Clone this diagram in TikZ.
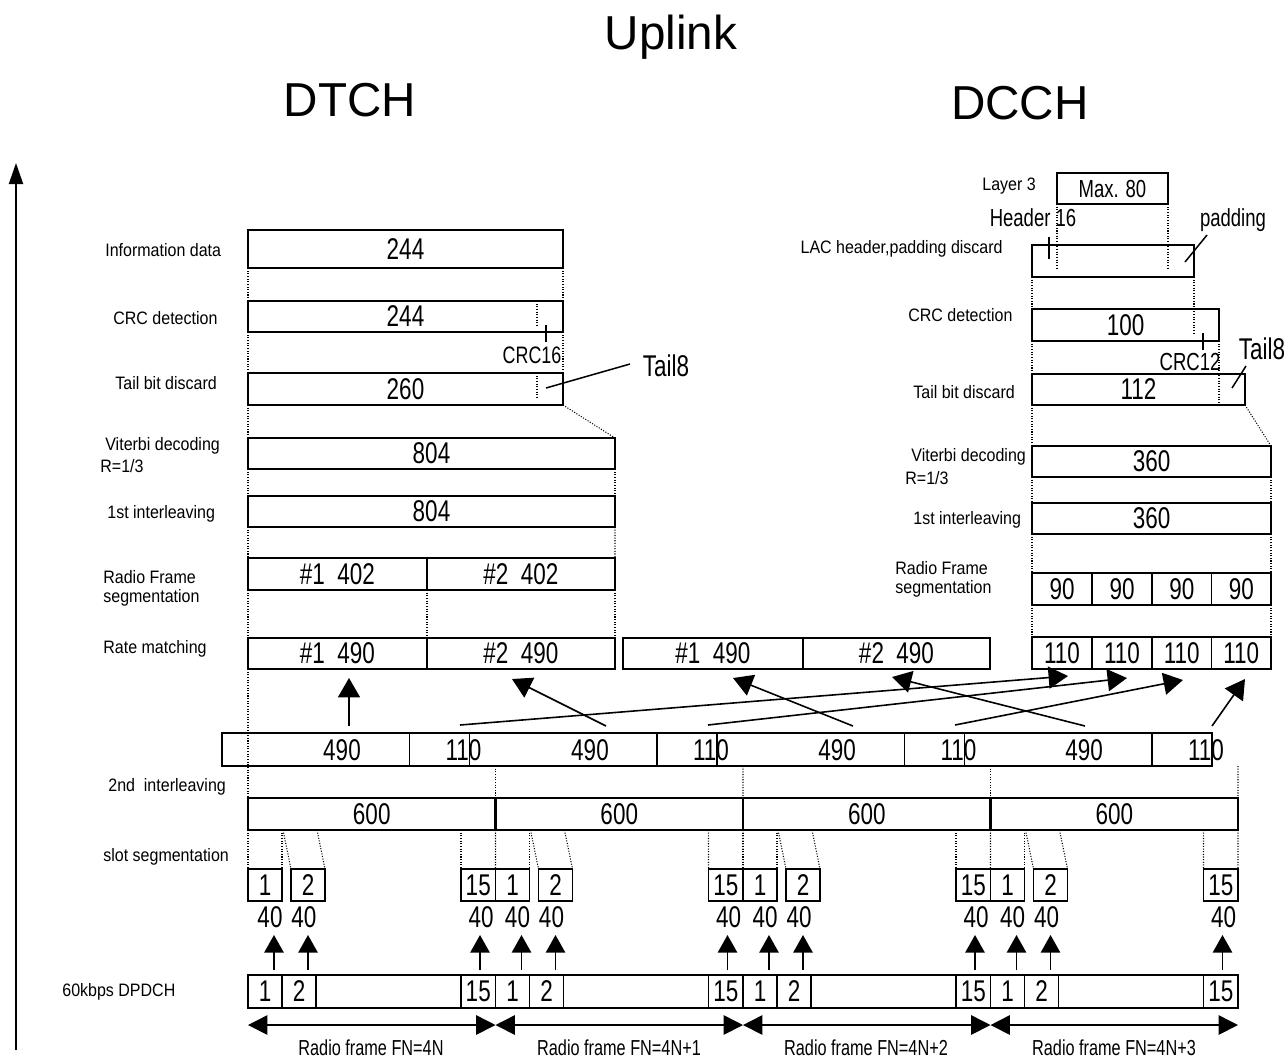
\documentclass[tikz,border=0pt]{standalone}
\usepackage{fontspec}
\setmainfont{Liberation Sans}
\newfontfamily\lblfam[FakeStretch=0.89]{Liberation Sans}
\newfontfamily\cndfam[FakeStretch=0.75]{Liberation Sans}
\usetikzlibrary{arrows.meta}
\newcommand\numf{\cndfam\fontsize{17}{20}\selectfont}
\newcommand\smf{\cndfam\fontsize{14}{16}\selectfont}
\newcommand\rff{\cndfam\fontsize{12.3}{14}\selectfont}
\newcommand\lblf{\lblfam\fontsize{10.2}{12}\selectfont}
\newcommand\ttlf{\fontsize{27}{30}\selectfont}
\def\upx{0.567pt}
\newcommand\mybx[7][]{\node[bx,#1,minimum width={((#5)-(#3))*\upx},minimum height={((#6)-(#4))*\upx}] (#2) at ({((#3)+(#5))/2},{((#4)+(#6))/2}) {#7};}
\begin{document}
\begin{tikzpicture}[x=0.567pt,y=-0.567pt,
  bx/.style={draw,line width=0.85pt,inner sep=0pt,outer sep=0pt,font=\numf},
  tbx/.style={line width=1.5pt},
  dt/.style={line width=0.6pt,dash pattern=on 0.6pt off 0.9pt},
  lab/.style={anchor=west,inner sep=0pt,font=\lblf},
  num/.style={inner sep=0pt,font=\numf},
  sm/.style={inner sep=0pt,font=\smf},
  tl/.style={inner sep=0pt,font=\ttlf},
  arr/.style={line width=0.9pt,-{Triangle[length=11pt,width=12.5pt]}},
  sarr/.style={line width=0.9pt,-{Triangle[length=10pt,width=11pt]}},
  rfarr/.style={line width=0.9pt,{Triangle[length=11pt,width=11pt]}-{Triangle[length=11pt,width=11pt]}},
  tick/.style={line width=0.85pt}]
\useasboundingbox (0,0) rectangle (1286,1058);

% titles
\node[tl] (uplink) at (671,37) {Uplink};
\node[tl] (dtch) at (350,100) {DTCH};
\node[tl] (dcch) at (1020,103) {DCCH};

% axis
\coordinate (axb) at (16,1050);
\coordinate (axt) at (16,163);
\draw[line width=1.1pt,-{Triangle[length=12pt,width=8pt]}] (axb) -- (axt);

% left labels
\node[lab] (la1) at (105,250) {Information data};
\node[lab] (la2) at (113,318) {CRC detection};
\node[lab] (la3) at (115,383) {Tail bit discard};
\node[lab] (la4) at (105,446) {Viterbi decoding};
\node[lab] (la4b) at (100,466) {R=1/3};
\node[lab] (la5) at (107,514) {1st interleaving};
\node[lab] (la6) at (103,577) {Radio Frame};
\node[lab] (la6b) at (103,598) {segmentation};
\node[lab] (la7) at (103,649) {Rate matching};
\node[lab] (la8) at (108,787) {2nd\ \ interleaving};
\node[lab] (la9) at (103,857) {slot segmentation};
\node[lab] (la10) at (62,992) {60kbps DPDCH};

% DTCH boxes
\mybx{info}{248}{230}{563}{268}{244}
\mybx{crc}{248}{301}{563}{332}{244}
\mybx{tail}{248}{373}{563}{405}{260}
\mybx{vit}{248}{438}{615}{469}{804}
\mybx{ila}{248}{496}{615}{527}{804}
\mybx{rfa}{248}{558}{427}{590}{\#1\ \ 402}
\mybx{rfb}{427}{558}{615}{590}{\#2\ \ 402}
\mybx{rma}{248}{638}{427}{669}{\#1\ \ 490}
\mybx{rmb}{427}{638}{615}{669}{\#2\ \ 490}
\mybx{rmc}{623}{638}{803}{669}{\#1\ \ 490}
\mybx{rmd}{803}{638}{990}{669}{\#2\ \ 490}

% DTCH dotted
\draw[dt] (info.south west) -- (crc.north west);
\draw[dt] (info.south east) -- (crc.north east);
\draw[dt] (crc.south west) -- (tail.north west);
\draw[dt] (crc.south east) -- (tail.north east);
\draw[dt] (537,301) -- (537,325);
\draw[dt] (537,373) -- (537,397);
\draw[dt] (tail.south west) -- (vit.north west);
\draw[dt] (tail.south east) -- (vit.north east);
\draw[dt] (vit.south west) -- (ila.north west);
\draw[dt] (vit.south east) -- (ila.north east);
\draw[dt] (ila.south west) -- (rfa.north west);
\draw[dt] (ila.south east) -- (rfb.north east);
\draw[dt] (rfa.south west) -- (rma.north west);
\draw[dt] (rfa.south east) -- (rma.north east);
\draw[dt] (rfb.south east) -- (rmb.north east);

% CRC16 / Tail8 marks
\coordinate (c16a) at (546,325); \coordinate (c16b) at (546,342);
\draw[tick] (c16a) -- (c16b);
\node[inner sep=0pt,font=\cndfam\fontsize{13.5}{15}\selectfont] (crc16) at (532,355) {CRC16};
\coordinate (t8a) at (546,388); \coordinate (t8b) at (630,364);
\draw[tick] (t8a) -- (t8b);
\node[num] (tail8) at (666,366) {Tail8};

% DCCH labels
\node[lab] (lb0) at (982,186) {Layer 3};
\node[lab,anchor=east] (lb1) at (1003,249) {LAC header,padding discard};
\node[lab] (lb2) at (908,315) {CRC detection};
\node[lab] (lb3) at (913,392) {Tail bit discard};
\node[lab] (lb4) at (911,457) {Viterbi decoding};
\node[lab] (lb4b) at (905,478) {R=1/3};
\node[lab] (lb5) at (913,520) {1st interleaving};
\node[lab] (lb6) at (895,568) {Radio Frame};
\node[lab] (lb6b) at (895,589) {segmentation};

% DCCH boxes
\mybx[font=\smf]{lay3}{1057}{173}{1168}{204}{Max. 80}
\mybx{lac}{1032}{245}{1194}{277}{}
\mybx{crcc}{1032}{309}{1219}{341}{100}
\mybx{tailc}{1032}{374}{1245}{405}{112}
\mybx{vitc}{1032}{446}{1271}{477}{360}
\mybx{ilc}{1032}{503}{1271}{534}{360}
\mybx{sg1}{1032}{573}{1092}{605}{90}
\mybx{sg2}{1092}{573}{1152}{605}{90}
\mybx{sg3}{1152}{573}{1211.5}{605}{90}
\mybx{sg4}{1211.5}{573}{1271}{605}{90}
\mybx{rc1}{1032}{637}{1092}{669}{110}
\mybx{rc2}{1092}{637}{1152}{669}{110}
\mybx{rc3}{1152}{637}{1211.5}{669}{110}
\mybx{rc4}{1211.5}{637}{1271}{669}{110}

% DCCH dotted
\draw[dt] (lay3.south west) -- ++(0,66);
\draw[dt] (lay3.south east) -- ++(0,66);
\draw[dt] (lac.south west) -- (crcc.north west);
\draw[dt] (1194,277) -- (1194,335);
\draw[dt] (crcc.south west) -- (tailc.north west);
\draw[dt] (1219,341) -- (1219,405);
\draw[dt] (tailc.south west) -- (vitc.north west);
\draw[dt] (tailc.south east) -- (vitc.north east);
\draw[dt] (vitc.south west) -- (ilc.north west);
\draw[dt] (vitc.south east) -- (ilc.north east);
\draw[dt] (ilc.south west) -- (sg1.north west);
\draw[dt] (ilc.south east) -- (sg4.north east);
\draw[dt] (sg1.south west) -- (rc1.north west);
\draw[dt] (sg4.south east) -- (rc4.north east);

% DCCH marks
\node[sm] (hdr) at (1033,218) {Header 16};
\coordinate (h16a) at (1049,237); \coordinate (h16b) at (1049,259);
\draw[tick] (h16a) -- (h16b);
\node[sm] (pad) at (1233,220) {padding};
\coordinate (pda) at (1185,262); \coordinate (pdb) at (1207,235);
\draw[tick] (pda) -- (pdb);
\coordinate (c12a) at (1203,333); \coordinate (c12b) at (1203,350);
\draw[tick] (c12a) -- (c12b);
\node[sm] (crc12) at (1190,362) {CRC12};
\coordinate (t8c) at (1232,388); \coordinate (t8d) at (1246,366);
\draw[tick] (t8c) -- (t8d);
\node[num] (tail8c) at (1262,349) {Tail8};

% middle row (2nd interleaving input)
\mybx{m1}{222}{733}{409.5}{766}{}
\mybx{m2}{409.5}{733}{469.5}{766}{}
\mybx{m3}{469.5}{733}{657}{766}{}
\mybx{m4}{657}{733}{717}{766}{}
\mybx{m5}{717}{733}{904.5}{766}{}
\mybx{m6}{904.5}{733}{964.5}{766}{}
\mybx{m7}{964.5}{733}{1152}{766}{}
\mybx{m8}{1152}{733}{1212}{766}{}
\node[num] (mt1) at (342,750) {490};
\node[num] (mt3) at (590,750) {490};
\node[num] (mt5) at (837,750) {490};
\node[num] (mt7) at (1084,750) {490};
\node[num] (mt2) at (463.5,750) {110};
\node[num] (mt4) at (711,750) {110};
\node[num] (mt6) at (958.5,750) {110};
\node[num] (mt8) at (1206,750) {110};
\draw[dt] (rma.south west) -- (248,798);

% arrows middle -> rate matching
\coordinate (aA1) at (349,726); \coordinate (aA2) at (349,678);
\coordinate (aB1) at (606,726); \coordinate (aB2) at (512,679);
\coordinate (aC1) at (853,726); \coordinate (aC2) at (733,678);
\coordinate (aD1) at (1085,726); \coordinate (aD2) at (892,677);
\coordinate (aE1) at (460,725); \coordinate (aE2) at (1068,676);
\coordinate (aF1) at (708,725); \coordinate (aF2) at (1127,678);
\coordinate (aG1) at (955,725); \coordinate (aG2) at (1183,680);
\coordinate (aH1) at (1212,726); \coordinate (aH2) at (1245,679);
\foreach \a in {A,B,C,D,E,F,G,H} {\draw[arr] (a\a1) -- (a\a2);}

% 600 boxes
\mybx[tbx]{f1}{248}{798}{495.5}{830}{600}
\mybx[tbx]{f2}{495.5}{798}{743}{830}{600}
\mybx[tbx]{f3}{743}{798}{990.5}{830}{600}
\mybx[tbx]{f4}{990.5}{798}{1238}{830}{600}
\draw[dt] (495.5,766) -- (f1.north east);
\draw[dt] (743,766) -- (f2.north east);
\draw[dt] (990.5,766) -- (f3.north east);
\draw[dt] (1238,766) -- (f4.north east);

% slots
\foreach \F/\k in {248/1,495.5/2,743/3,990.5/4} {
  \mybx{sa\k}{\F}{869}{\F+34}{901}{1}
  \mybx{sb\k}{\F+43}{869}{\F+77}{901}{2}
  \mybx{sc\k}{\F+213}{869}{\F+247.5}{901}{15}
  \draw[dt] (\F,830) -- (sa\k.north west);
  \draw[dt] (\F+34,830) -- (sa\k.north east);
  \draw[dt] (\F+35,830) -- (sb\k.north west);
  \draw[dt] (\F+69,830) -- (sb\k.north east);
  \draw[dt] (\F+213,830) -- (sc\k.north west);
  \draw[dt] (\F+247.5,830) -- (sc\k.north east);
  \node[num] (na\k) at (\F+22,917) {40};
  \node[num] (nb\k) at (\F+56,917) {40};
  \node[num] (nc\k) at (\F+233,917) {40};
  \draw[sarr] (\F+26,970) -- (\F+26,935);
  \draw[sarr] (\F+60,970) -- (\F+60,935);
  \draw[sarr] (\F+232,970) -- (\F+232,935);
  \mybx{da\k}{\F}{975}{\F+34}{1008}{1}
  \mybx{db\k}{\F+34}{975}{\F+68}{1008}{2}
  \mybx{dc\k}{\F+213}{975}{\F+247.5}{1008}{15}
}
\mybx[tbx]{dp}{248}{975}{1238}{1008}{}

% radio frames
\coordinate (rf0) at (248,1025);
\coordinate (rf1) at (495.5,1025);
\coordinate (rf2) at (743,1025);
\coordinate (rf3) at (990.5,1025);
\coordinate (rf4) at (1238,1025);
\draw[rfarr] (rf0) -- (rf1);
\draw[rfarr] (rf1) -- (rf2);
\draw[rfarr] (rf2) -- (rf3);
\draw[rfarr] (rf3) -- (rf4);
\node[inner sep=0pt,font=\rff] (rl1) at (371,1048) {Radio frame FN=4N};
\node[inner sep=0pt,font=\rff] (rl2) at (619,1048) {Radio frame FN=4N+1};
\node[inner sep=0pt,font=\rff] (rl3) at (866,1048) {Radio frame FN=4N+2};
\node[inner sep=0pt,font=\rff] (rl4) at (1114,1048) {Radio frame FN=4N+3};
\end{tikzpicture}
\end{document}
